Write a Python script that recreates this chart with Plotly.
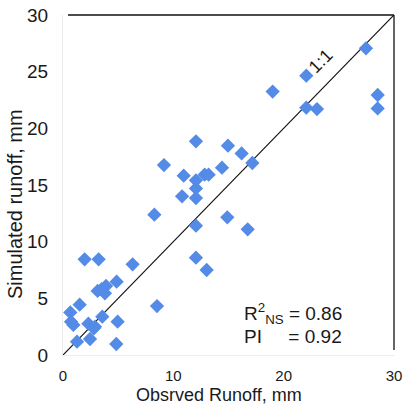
import plotly.graph_objects as go

observed = [0.66, 0.73, 0.94, 1.51, 1.27, 1.96, 2.45, 2.30, 2.90, 3.56, 3.23, 3.14, 3.50, 3.80, 3.90,
            4.86, 4.95, 4.83, 6.31, 8.52, 8.28, 9.15, 10.79, 10.94, 12.05, 12.05, 12.05, 12.05, 12.05,
            12.05, 13.02, 12.84, 13.20, 14.41, 14.95, 14.89, 16.19, 16.74, 17.16, 19.00, 22.05, 22.05,
            23.02, 27.46, 28.52, 28.52, 2.80]
simulated = [3.76, 2.94, 2.65, 4.44, 1.18, 8.44, 1.41, 2.76, 2.50, 3.38, 8.44, 5.65, 5.80, 5.44, 6.09,
             6.47, 2.94, 0.97, 8.00, 4.32, 12.38, 16.76, 14.00, 15.82, 18.85, 15.41, 14.70, 13.85, 11.41,
             8.59, 7.50, 15.91, 15.91, 16.53, 18.47, 12.15, 17.79, 11.09, 16.94, 23.24, 24.65, 21.82,
             21.70, 27.06, 22.94, 21.76, 2.35]
one_to_one = [0, 30]
ticks = [0, 5, 10, 15, 20, 25, 30]
xticks = [0, 10, 20, 30]

FONT = "Liberation Sans, Arial, sans-serif"
INK = "#1a1a1a"

fig = go.Figure()
fig.add_trace(go.Scatter(x=one_to_one, y=one_to_one, mode="lines",
                         line=dict(color="#111111", width=1.2), hoverinfo="skip", showlegend=False))
fig.add_trace(go.Scatter(x=observed, y=simulated, mode="markers",
                         marker=dict(symbol="diamond", size=11, color="#548be6",
                                     line=dict(width=0)),
                         showlegend=False))

# top and right frame lines (black), left/bottom faint
fig.add_shape(type="line", xref="paper", yref="paper", x0=0.015, x1=1, y0=1, y1=1,
              line=dict(color="#111111", width=1.3))
fig.add_shape(type="line", xref="paper", yref="paper", x0=1, x1=1, y0=0.015, y1=1,
              line=dict(color="#111111", width=1.3))

fig.add_annotation(x=23.35, y=25.95, text="1:1", textangle=-45, showarrow=False,
                   font=dict(family=FONT, size=18, color=INK))
fig.add_annotation(x=16.2, y=3.7, xanchor="left", text="R<sup>2</sup><sub>NS</sub> = 0.86",
                   showarrow=False, font=dict(family=FONT, size=19, color=INK))
fig.add_annotation(x=16.2, y=1.6, xanchor="left", text="PI&nbsp;&nbsp;&nbsp;&nbsp;&nbsp;= 0.92",
                   showarrow=False, font=dict(family=FONT, size=19, color=INK))

# axis titles
fig.add_annotation(xref="paper", yref="paper", x=0.471, y=-0.152, yanchor="bottom",
                   text="Obsrved Runoff, mm", showarrow=False,
                   font=dict(family=FONT, size=18, color=INK))
fig.add_annotation(xref="paper", yref="paper", x=-0.145, y=0.444, xanchor="center",
                   yanchor="middle", textangle=-90, text="Simulated runoff, mm", showarrow=False,
                   font=dict(family=FONT, size=20, color=INK))

fig.update_layout(
    width=403, height=407,
    margin=dict(l=63, r=9, t=15, b=52),
    paper_bgcolor="white", plot_bgcolor="white",
    font=dict(family=FONT, color=INK),
    xaxis=dict(range=[0, 30], tickvals=xticks, showgrid=False, zeroline=False,
               showline=True, linecolor="#ececec", linewidth=1, automargin=False,
               ticks="", tickfont=dict(size=15, color=INK), ticklabelstandoff=7),
    yaxis=dict(range=[0, 30], tickvals=ticks, showgrid=False, zeroline=False,
               showline=True, linecolor="#ececec", linewidth=1, automargin=False,
               ticks="", tickfont=dict(size=19, color=INK), ticklabelstandoff=10),
)

fig.write_html("out.html")
